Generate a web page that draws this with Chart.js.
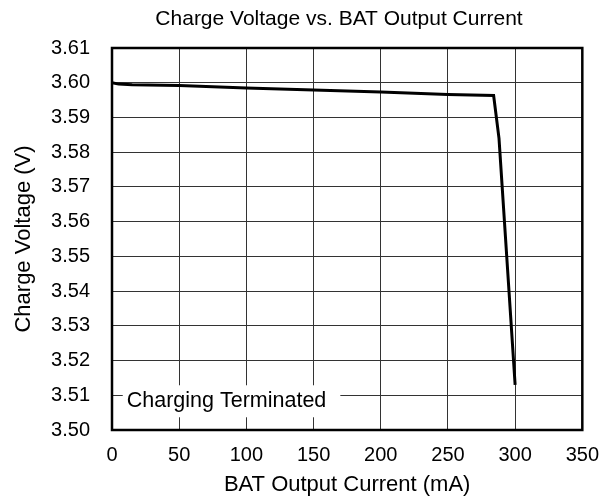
<!DOCTYPE html>
<html>
<head>
<meta charset="utf-8">
<script src="https://cdn.jsdelivr.net/npm/chart.js@4"></script>
<style>
  html, body { margin: 0; padding: 0; background: #fff; }
  #wrap { width: 612px; height: 502px; }
</style>
</head>
<body>
<div id="wrap"><canvas id="chargeChart" width="612" height="502"></canvas></div>
<script>
const currentMA = [0, 5, 15, 50, 100, 150, 200, 250, 284, 288, 300];
const chargeVolts = [3.6000, 3.5996, 3.5994, 3.5992, 3.5985, 3.5979, 3.5973, 3.5966, 3.5963, 3.5840, 3.5130];
const xTicks = [0, 50, 100, 150, 200, 250, 300, 350];
const yTicks = [3.50, 3.51, 3.52, 3.53, 3.54, 3.55, 3.56, 3.57, 3.58, 3.59, 3.60, 3.61];
const chartTitle = 'Charge Voltage vs. BAT Output Current';
const noteText = 'Charging Terminated';
const noteX = 8;
const noteY = 3.51;

const fontFamily = '"Liberation Sans", Arial, sans-serif';

// title, white box + label on the 3.51 grid line, and the frame
const notePlugin = {
  id: 'note',
  beforeDatasetsDraw(chart) {
    const { ctx, scales } = chart;
    const px = scales.x.getPixelForValue(noteX);
    const py = scales.y.getPixelForValue(noteY);
    ctx.save();
    ctx.font = '21.5px ' + fontFamily;
    const w = ctx.measureText(noteText).width;
    ctx.fillStyle = '#fff';
    ctx.fillRect(px, py - 10, w + 18, 32);
    ctx.fillStyle = '#000';
    ctx.textBaseline = 'alphabetic';
    ctx.fillText(noteText, px + 4, py + 12);
    ctx.restore();
  },
  afterDraw(chart) {
    const { ctx, chartArea: a } = chart;
    ctx.save();
    ctx.strokeStyle = '#000';
    ctx.lineWidth = 2.5;
    ctx.strokeRect(a.left, a.top, a.right - a.left, a.bottom - a.top);
    ctx.font = '21px ' + fontFamily;
    ctx.fillStyle = '#000';
    ctx.textAlign = 'center';
    ctx.textBaseline = 'alphabetic';
    ctx.fillText(chartTitle, 339, 25);
    ctx.restore();
  }
};

new Chart(document.getElementById('chargeChart'), {
  type: 'line',
  data: {
    datasets: [{
      data: currentMA.map((x, i) => ({ x, y: chargeVolts[i] })),
      borderColor: '#000',
      borderWidth: 3,
      pointRadius: 0,
      tension: 0,
      fill: false
    }]
  },
  options: {
    responsive: false,
    animation: false,
    layout: { padding: { left: 0, right: 29, top: 48, bottom: 0 } },
    plugins: {
      legend: { display: false },
      tooltip: { enabled: false },
      title: { display: false }
    },
    scales: {
      x: {
        type: 'linear',
        min: 0,
        max: 350,
        afterFit(s) { s.height = 72; },
        afterBuildTicks(s) { s.ticks = xTicks.map(v => ({ value: v })); },
        grid: { color: '#333', lineWidth: 1, drawTicks: false },
        border: { display: false },
        ticks: {
          color: '#000',
          padding: 13,
          maxRotation: 0,
          font: { family: fontFamily, size: 20 }
        },
        title: {
          display: true,
          text: 'BAT Output Current (mA)',
          color: '#000',
          font: { family: fontFamily, size: 22 },
          padding: { top: 0, bottom: 4 }
        }
      },
      y: {
        min: 3.50,
        max: 3.61,
        afterFit(s) { s.width = 112; },
        afterBuildTicks(s) { s.ticks = yTicks.map(v => ({ value: v })); },
        grid: { color: '#333', lineWidth: 1, drawTicks: false },
        border: { display: false },
        ticks: {
          color: '#000',
          padding: 22,
          font: { family: fontFamily, size: 20 },
          callback: v => v.toFixed(2)
        },
        title: {
          display: true,
          text: 'Charge Voltage (V)',
          color: '#000',
          font: { family: fontFamily, size: 22 },
          padding: { top: 11, bottom: 0 }
        }
      }
    }
  },
  plugins: [notePlugin]
});
</script>
</body>
</html>
